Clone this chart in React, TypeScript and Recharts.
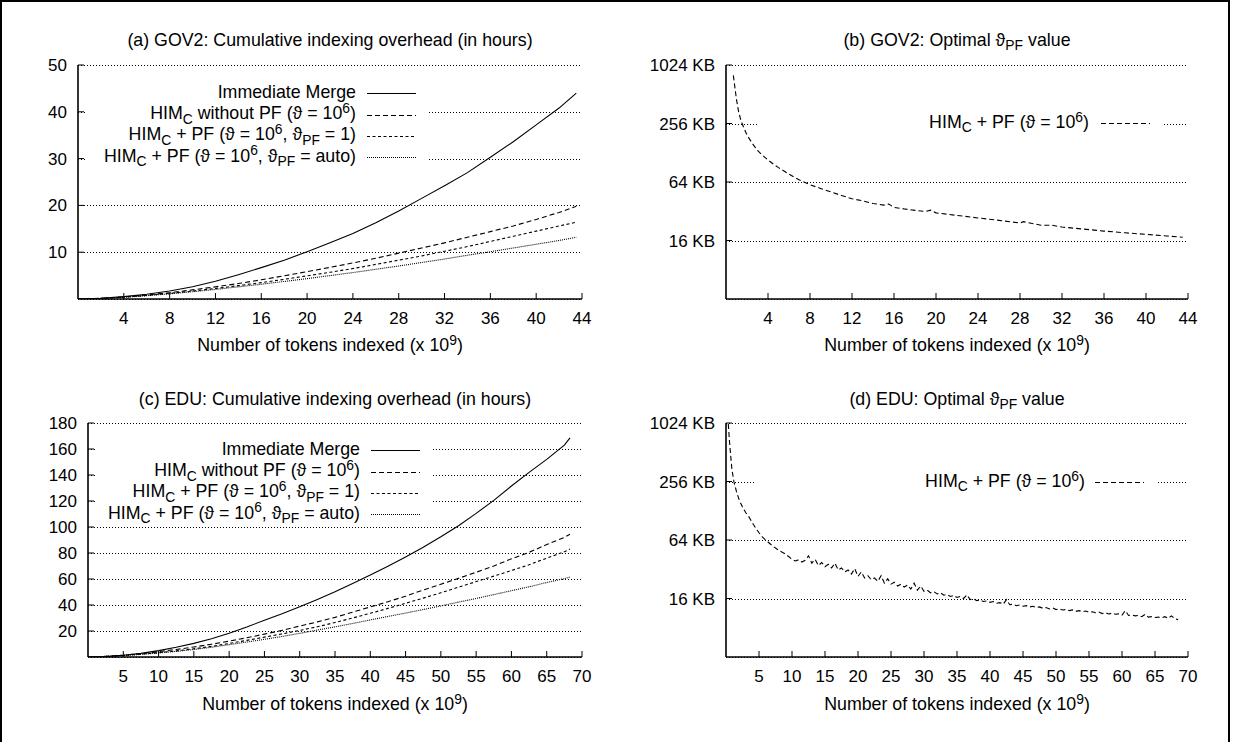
import React from 'react';
import { LineChart, Line, XAxis, YAxis, CartesianGrid } from 'recharts';

const FONT = '"Liberation Sans", Arial, Helvetica, sans-serif';

// (a) GOV2: cumulative indexing overhead, hours vs tokens (x 10^9)
const gov2Tokens = [0, 2, 4, 6, 8, 10, 12, 14, 16, 18, 20, 22, 24, 26, 28, 30, 32, 34, 36, 38, 40, 42, 43.5];
const gov2Immediate = [0, 0.15, 0.5, 1.0, 1.7, 2.6, 3.8, 5.2, 6.7, 8.3, 10.1, 12.0, 14.0, 16.3, 18.8, 21.5, 24.2, 27.0, 30.3, 33.6, 37.2, 40.8, 44.0];
const gov2NoPf = [0, 0.15, 0.45, 0.85, 1.35, 1.95, 2.6, 3.3, 4.1, 4.95, 5.85, 6.75, 7.7, 8.7, 9.8, 10.9, 12.0, 13.2, 14.4, 15.6, 17.0, 18.5, 19.8];
const gov2Pf1 = [0, 0.13, 0.4, 0.75, 1.2, 1.7, 2.25, 2.85, 3.5, 4.2, 4.95, 5.7, 6.5, 7.4, 8.3, 9.2, 10.2, 11.2, 12.3, 13.4, 14.5, 15.6, 16.4];
const gov2PfAuto = [0, 0.12, 0.37, 0.7, 1.1, 1.55, 2.05, 2.6, 3.15, 3.75, 4.35, 5.0, 5.65, 6.35, 7.05, 7.8, 8.55, 9.35, 10.1, 10.9, 11.7, 12.5, 13.2];

// (c) EDU: cumulative indexing overhead
const eduTokens = [0, 2.5, 5, 7.5, 10, 12.5, 15, 17.5, 20, 22.5, 25, 27.5, 30, 32.5, 35, 37.5, 40, 42.5, 45, 47.5, 50, 52.5, 55, 57.5, 60, 62.5, 65, 67.5, 68.3];
const eduImmediate = [0, 0.4, 1.3, 2.8, 4.9, 7.5, 10.5, 14.0, 18.2, 23.0, 28.3, 33.3, 38.7, 44.3, 50.2, 56.5, 63.0, 69.8, 77.0, 84.5, 92.5, 101.0, 110.5, 120.5, 131.5, 142.0, 152.0, 163.0, 168.5];
const eduNoPf = [0, 0.5, 1.4, 2.6, 4.1, 5.8, 7.7, 9.8, 12.2, 14.8, 17.6, 20.5, 23.8, 27.0, 30.5, 34.5, 38.5, 42.5, 46.8, 51.5, 56.0, 60.5, 65.2, 70.0, 75.5, 80.5, 86.5, 92.0, 94.5];
const eduPf1 = [0, 0.4, 1.2, 2.2, 3.3, 4.7, 6.3, 8.2, 10.4, 12.8, 15.3, 17.8, 20.4, 23.3, 26.5, 30.0, 33.6, 37.4, 41.3, 45.3, 49.4, 53.7, 58.0, 62.2, 66.5, 71.0, 76.0, 81.0, 83.0];
const eduPfAuto = [0, 0.4, 1.1, 2.0, 3.1, 4.3, 5.8, 7.5, 9.5, 11.5, 13.6, 15.8, 18.2, 20.7, 23.2, 25.8, 28.5, 31.2, 33.8, 36.5, 39.3, 42.2, 45.0, 48.0, 51.0, 54.0, 57.3, 60.3, 61.5];

// (b) GOV2: optimal theta_PF (KB)
const gov2OptTokens = [0.7, 0.85, 1.0, 1.2, 1.4, 1.7, 2.0, 2.5, 3.0, 3.5, 4.0, 4.5, 5, 6, 7, 8, 9, 10, 11, 12, 13, 14, 15, 15.5, 16, 17, 18, 19, 19.5, 20, 22, 24, 26, 28, 28.3, 30, 31, 32, 34, 36, 38, 40, 42, 43.5];
const gov2OptKb = [800, 600, 450, 340, 280, 230, 195, 160, 135, 120, 108, 98, 90, 77, 67, 60, 55, 50.5, 46.5, 43, 41, 38.5, 37, 38, 35, 33.8, 32.7, 31.8, 32.8, 30.8, 29, 27.3, 25.8, 24.2, 25, 23, 23, 22, 21, 20, 19.2, 18.5, 17.8, 17.3];

// (d) EDU: optimal theta_PF (KB)
const eduOptTokens = [
  0.35, 0.5, 0.7, 0.9, 1.2, 1.6, 2.0, 2.5, 3.0, 3.5, 4.0, 4.5, 5.0, 5.5, 6.0, 7.0, 8.0, 9.0,
  10, 10.5, 11, 11.5, 12, 12.5, 13, 13.5, 14, 14.5,
  15, 15.5, 16, 16.5, 17, 17.5, 18, 18.5, 19, 19.5,
  20, 20.5, 21, 21.5, 22, 22.5, 23, 23.5, 24, 24.5,
  25, 25.5, 26, 26.5, 27, 27.5, 28, 28.5, 29, 29.5,
  30, 30.5, 31, 31.5, 32, 32.5, 33, 33.5, 34, 34.5,
  35, 35.5, 36, 36.5, 37, 37.5, 38, 38.5, 39, 39.5,
  40, 40.5, 41, 41.5, 42, 42.5, 43, 43.5, 44, 44.5,
  45, 45.5, 46, 46.5, 47, 47.5, 48, 48.5, 49, 49.5,
  50, 50.5, 51, 51.5, 52, 52.5, 53, 53.5, 54, 54.5,
  55, 55.5, 56, 56.5, 57, 57.5, 58, 58.5, 59, 59.5,
  60, 60.5, 61, 61.5, 62, 62.5, 63, 63.5, 64, 64.5,
  65, 65.5, 66, 66.5, 67, 67.5, 68, 68.5,
];
const eduOptKb = [
  1000, 700, 480, 340, 255, 200, 165, 140, 122, 110, 96, 85, 76, 69, 64, 56, 50, 46,
  40.5, 39, 40, 38, 39.5, 44, 37, 40.5, 35, 37.5,
  34, 36, 33, 37, 31.5, 33, 30, 31.5, 28.5, 32.5,
  27, 30, 26, 27.5, 25, 26, 24, 27.5, 23, 25.5,
  22.5, 23.5, 21.5, 22.5, 21, 22, 20, 23, 19.5, 21.5,
  19, 19.5, 18.3, 18.8, 17.8, 18.3, 17.3, 17.6, 16.8, 17.2,
  16.4, 16.8, 16, 17.4, 15.6, 15.9, 15.2, 15.5, 14.9, 15.1,
  14.6, 14.9, 14.3, 14.5, 14.0, 15.6, 13.8, 14, 13.5, 13.7,
  13.3, 13.5, 13.1, 13.3, 12.9, 13.1, 12.7, 12.9, 12.5, 12.8,
  12.3, 12.5, 12.2, 12.3, 12.0, 12.2, 11.8, 12.0, 11.7, 11.9,
  11.5, 11.7, 11.4, 11.6, 11.2, 11.4, 11.1, 11.3, 11.0, 11.1,
  10.8, 12.0, 10.7, 10.8, 10.6, 10.7, 10.4, 11.0, 10.3, 10.4,
  10.2, 10.3, 10.1, 10.4, 10.0, 10.6, 9.9, 9.7,
];

const gov2XTicks = [4, 8, 12, 16, 20, 24, 28, 32, 36, 40, 44];
const eduXTicks = [5, 10, 15, 20, 25, 30, 35, 40, 45, 50, 55, 60, 65, 70];
const gov2HourTicks = [10, 20, 30, 40, 50];
const eduHourTicks = [20, 40, 60, 80, 100, 120, 140, 160, 180];
const kbTicks = [16, 64, 256, 1024];

const Sub = ({ children }: { children: React.ReactNode }) => (
  <span style={{ fontSize: '0.78em', position: 'relative', top: '0.32em' }}>{children}</span>
);
const Sup = ({ children }: { children: React.ReactNode }) => (
  <span style={{ fontSize: '0.78em', position: 'relative', top: '-0.45em' }}>{children}</span>
);

const overheadSeries = [
  { key: 'im', dash: undefined, label: <>Immediate Merge</> },
  { key: 'nopf', dash: '5 3', label: <>HIM<Sub>C</Sub> without PF (ϑ = 10<Sup>6</Sup>)</> },
  { key: 'pf1', dash: '3 2.5', label: <>HIM<Sub>C</Sub> + PF (ϑ = 10<Sup>6</Sup>, ϑ<Sub>PF</Sub> = 1)</> },
  { key: 'auto', dash: '1 1', label: <>HIM<Sub>C</Sub> + PF (ϑ = 10<Sup>6</Sup>, ϑ<Sub>PF</Sub> = auto)</> },
];
const optSeries = [
  { key: 'kb', dash: '5 3', label: <>HIM<Sub>C</Sub> + PF (ϑ = 10<Sup>6</Sup>)</> },
];

const gov2Rows = gov2Tokens.map((x, i) => ({ x, im: gov2Immediate[i], nopf: gov2NoPf[i], pf1: gov2Pf1[i], auto: gov2PfAuto[i] }));
const eduRows = eduTokens.map((x, i) => ({ x, im: eduImmediate[i], nopf: eduNoPf[i], pf1: eduPf1[i], auto: eduPfAuto[i] }));
const gov2OptRows = gov2OptTokens.map((x, i) => ({ x, kb: gov2OptKb[i] }));
const eduOptRows = eduOptTokens.map((x, i) => ({ x, kb: eduOptKb[i] }));

const axisLine = { stroke: '#000', strokeWidth: 1.6 };
const tickLine = { stroke: '#000', strokeWidth: 1 };
const tickText = { fill: '#000', fontSize: 17, fontFamily: FONT };

// dotted grid line snapped to the pixel grid so it stays dark
const gridLine = (lp: any) => (
  <line key={`g-${lp.index}`} x1={lp.x1} x2={lp.x2} y1={Math.round(lp.y1) + 0.5} y2={Math.round(lp.y2) + 0.5}
    stroke="#000" strokeWidth={1} strokeDasharray="1 2" fill="none" />
);

type KeySpec = { left: number; top: number; width: number; padTop: number; textW: number; gap: number; sample: number; rowH: number };

type PanelProps = {
  left: number; top: number; width: number; height: number;
  margin: { top: number; right: number; bottom: number; left: number };
  yWidth: number;
  data: any[];
  series: { key: string; dash?: string; label: React.ReactNode }[];
  xDomain: [number, number]; xTicks: number[];
  yDomain: [number, number]; yTicks: number[];
  logY?: boolean;
  title: React.ReactNode; titleY: number; labelY: number;
  keySpec: KeySpec;
};

// opaque key box, like gnuplot's "set key opaque" (hides the grid behind it)
function KeyBox({ spec, series }: { spec: KeySpec; series: PanelProps['series'] }) {
  return (
    <div style={{
      position: 'absolute', left: spec.left, top: spec.top, width: spec.width,
      height: spec.padTop + series.length * spec.rowH + 1, paddingTop: spec.padTop, boxSizing: 'border-box',
      background: '#fff', fontFamily: FONT, fontSize: 17.8, color: '#000',
    }}>
      {series.map((s) => (
        <div key={s.key} style={{ display: 'flex', alignItems: 'center', height: spec.rowH }}>
          <div style={{ width: spec.textW, flex: 'none', display: 'flex', justifyContent: 'flex-end', whiteSpace: 'nowrap', lineHeight: `${spec.rowH}px` }}>
            <span>{s.label}</span>
          </div>
          <svg width={spec.sample} height={spec.rowH} style={{ marginLeft: spec.gap, display: 'block', flex: 'none' }}>
            <line x1={0} x2={spec.sample} y1={Math.round(spec.rowH / 2) + 0.5} y2={Math.round(spec.rowH / 2) + 0.5} stroke="#000" strokeWidth={1.1} strokeDasharray={s.dash} />
          </svg>
        </div>
      ))}
    </div>
  );
}

function Panel(p: PanelProps) {
  const plotLeft = p.margin.left + p.yWidth;
  const plotCenter = plotLeft + (p.width - plotLeft - p.margin.right) / 2;
  const fmt = (v: number) => (p.logY ? `${v} KB` : `${v}`);
  return (
    <div style={{ position: 'absolute', left: p.left, top: p.top, width: p.width, height: p.height }}>
      <div style={{ position: 'absolute', left: plotCenter - 300, width: 600, top: p.titleY - 11, lineHeight: '22px', textAlign: 'center', fontSize: 17.8, whiteSpace: 'nowrap' }}>
        {p.title}
      </div>
      <LineChart width={p.width} height={p.height} data={p.data} margin={p.margin}>
        <CartesianGrid xAxisId="bottom" yAxisId="left" horizontal={gridLine} vertical={false} />
        <XAxis xAxisId="bottom" type="number" dataKey="x" domain={p.xDomain} ticks={p.xTicks} allowDataOverflow interval={0}
          height={30} tickSize={-6} tickMargin={19} axisLine={axisLine} tickLine={tickLine} tick={tickText} />
        <XAxis xAxisId="top" orientation="top" type="number" dataKey="x" domain={p.xDomain} ticks={p.xTicks} allowDataOverflow interval={0}
          height={0} tickSize={-6} axisLine={axisLine} tickLine={tickLine} tick={false} />
        <YAxis yAxisId="left" type="number" scale={p.logY ? 'log' : 'linear'} domain={p.yDomain} ticks={p.yTicks} allowDataOverflow interval={0}
          width={p.yWidth} tickSize={-6} tickMargin={17} axisLine={axisLine} tickLine={tickLine} tick={tickText} tickFormatter={fmt} />
        <YAxis yAxisId="right" orientation="right" type="number" scale={p.logY ? 'log' : 'linear'} domain={p.yDomain} ticks={p.yTicks} allowDataOverflow interval={0}
          width={0} tickSize={-6} axisLine={axisLine} tickLine={tickLine} tick={false} />
        {p.series.map((s) => (
          <Line key={s.key} xAxisId="bottom" yAxisId="left" type="linear" dataKey={s.key} stroke="#000" strokeWidth={1.1}
            strokeDasharray={s.dash} dot={false} activeDot={false} isAnimationActive={false} />
        ))}
      </LineChart>
      <KeyBox spec={p.keySpec} series={p.series} />
      <div style={{ position: 'absolute', left: plotCenter - 300, width: 600, top: p.labelY - 11, lineHeight: '22px', textAlign: 'center', fontSize: 17.8, whiteSpace: 'nowrap' }}>
        Number of tokens indexed (x 10<Sup>9</Sup>)
      </div>
    </div>
  );
}

export default function App() {
  return (
    <div style={{ position: 'absolute', left: 0, top: 0, width: 1233, height: 742, background: '#fff', overflow: 'hidden', fontFamily: FONT, color: '#000' }}>
      <div style={{ position: 'absolute', left: 0, top: 0, width: 1230, height: 780, boxSizing: 'border-box', borderTop: '2px solid #000', borderLeft: '2px solid #000', borderRight: '2px solid #000' }} />
      <Panel left={0} top={0} width={610} height={370} margin={{ top: 65, right: 28, bottom: 41, left: 18 }} yWidth={60}
        data={gov2Rows} series={overheadSeries} xDomain={[0, 44]} xTicks={gov2XTicks} yDomain={[0, 50]} yTicks={gov2HourTicks}
        title="(a) GOV2: Cumulative indexing overhead (in hours)" titleY={40} labelY={345}
        keySpec={{ left: 85, top: 72, width: 342, padTop: 10.3, textW: 271, gap: 11, sample: 49, rowH: 21.3 }} />
      <Panel left={610} top={0} width={623} height={370} margin={{ top: 65, right: 45, bottom: 41, left: 36 }} yWidth={80}
        data={gov2OptRows} series={optSeries} xDomain={[0, 44]} xTicks={gov2XTicks} yDomain={[4, 1024]} yTicks={kbTicks} logY
        title={<>(b) GOV2: Optimal ϑ<Sub>PF</Sub> value</>} titleY={40} labelY={345}
        keySpec={{ left: 149, top: 112, width: 403, padTop: 0.4, textW: 330, gap: 12, sample: 49, rowH: 21.3 }} />
      <Panel left={0} top={370} width={610} height={372} margin={{ top: 53, right: 28, bottom: 55, left: 28 }} yWidth={60}
        data={eduRows} series={overheadSeries} xDomain={[0, 70]} xTicks={eduXTicks} yDomain={[0, 180]} yTicks={eduHourTicks}
        title="(c) EDU: Cumulative indexing overhead (in hours)" titleY={29} labelY={334}
        keySpec={{ left: 95, top: 60, width: 336, padTop: 9.3, textW: 265, gap: 11, sample: 49, rowH: 21.3 }} />
      <Panel left={610} top={370} width={623} height={372} margin={{ top: 53, right: 45, bottom: 55, left: 36 }} yWidth={80}
        data={eduOptRows} series={optSeries} xDomain={[0, 70]} xTicks={eduXTicks} yDomain={[4, 1024]} yTicks={kbTicks} logY
        title={<>(d) EDU: Optimal ϑ<Sub>PF</Sub> value</>} titleY={29} labelY={334}
        keySpec={{ left: 145, top: 101, width: 403, padTop: 0.4, textW: 330, gap: 10, sample: 49, rowH: 21.3 }} />
    </div>
  );
}
